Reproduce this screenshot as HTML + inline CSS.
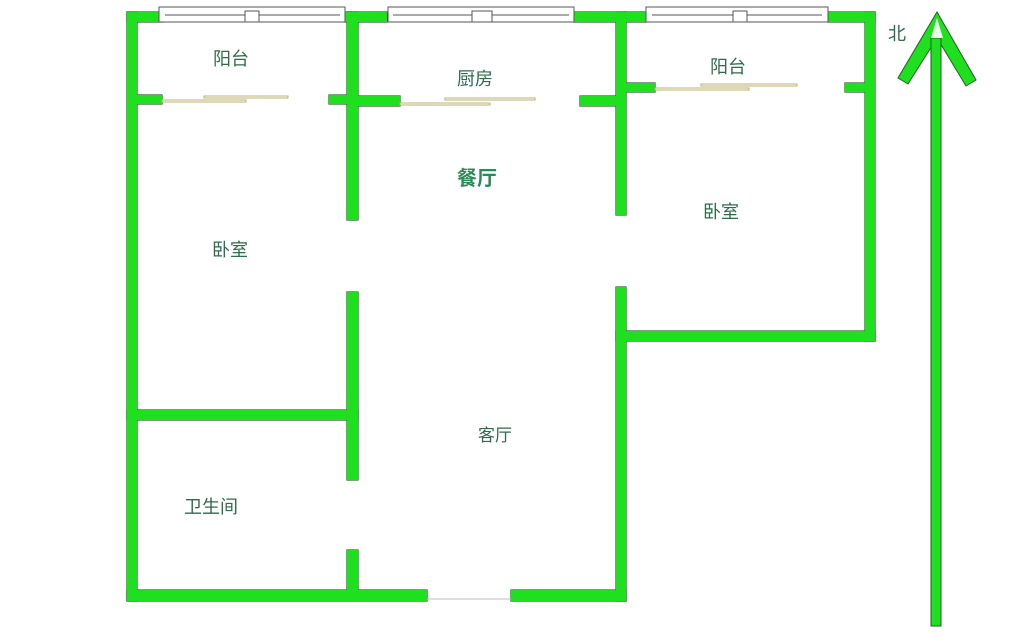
<!DOCTYPE html>
<html><head><meta charset="utf-8"><style>
html,body{margin:0;padding:0;background:#fff;}
svg{display:block}
text{font-family:"Liberation Sans","Noto Sans CJK SC",sans-serif;fill:#2d6b4a;font-size:18px;}
</style></head><body>
<svg width="1024" height="643" viewBox="0 0 1024 643" xmlns="http://www.w3.org/2000/svg">
<defs>
<g id="walls">
<rect x="127" y="12" width="10" height="589"/>
<rect x="127" y="12" width="36" height="10"/>
<rect x="344" y="12" width="43" height="10"/>
<rect x="573" y="12" width="74" height="10"/>
<rect x="827" y="12" width="48" height="10"/>
<rect x="865" y="12" width="10" height="329"/>
<rect x="616" y="331" width="259" height="10"/>
<rect x="616" y="287" width="10" height="314"/>
<rect x="616" y="12" width="10" height="203"/>
<rect x="127" y="590" width="300" height="11"/>
<rect x="511" y="590" width="115" height="11"/>
<rect x="347" y="12" width="11" height="208"/>
<rect x="347" y="292" width="11" height="188"/>
<rect x="347" y="550" width="11" height="50"/>
<rect x="127" y="410" width="231" height="10"/>
<rect x="137" y="95" width="25" height="9"/>
<rect x="329" y="95" width="18" height="9"/>
<rect x="358" y="96" width="42" height="10"/>
<rect x="580" y="96" width="36" height="10"/>
<rect x="626" y="83" width="29" height="9"/>
<rect x="845" y="83" width="20" height="9"/>
</g>
</defs>
<use href="#walls" fill="#2a5a2a" stroke="#2a5a2a" stroke-width="1.2"/>
<use href="#walls" fill="#1fe01f"/>
<g fill="#1fe01f" stroke="#2a5a2a" stroke-width="1">
<polygon points="937,12 976,80 966,86 937,38 908,84 898,78"/>
<rect x="931" y="38" width="10" height="588"/>
</g>
<polygon points="937,18 931,38 943,38" fill="#e8ffe8"/>
<g fill="#fff" stroke="#555" stroke-width="1">
<rect x="159" y="7" width="186" height="15"/>
<rect x="388" y="7" width="186" height="15"/>
<rect x="646" y="7" width="182" height="15"/>
<line x1="165" y1="15" x2="340" y2="15"/>
<line x1="393" y1="15" x2="569" y2="15"/>
<line x1="652" y1="15" x2="822" y2="15"/>
<rect x="245" y="11" width="14" height="11"/>
<rect x="472" y="11" width="20" height="11"/>
<rect x="733" y="11" width="14" height="11"/>
</g>
<g fill="#fff" stroke="#b8b070" stroke-width="1">
<rect x="204" y="96" width="84" height="2"/>
<rect x="162" y="100" width="84" height="2"/>
<rect x="445" y="98" width="90" height="2"/>
<rect x="400" y="103" width="90" height="2"/>
<rect x="701" y="84" width="96" height="2"/>
<rect x="655" y="88" width="94" height="2"/>
</g>
<line x1="427" y1="599" x2="511" y2="599" stroke="#bbb" stroke-width="1"/>
<text x="213" y="65">阳台</text>
<text x="457" y="85">厨房</text>
<text x="710" y="73">阳台</text>
<text x="457" y="185" style="font-weight:bold;font-size:20px;fill:#2a8a5a">餐厅</text>
<text x="212" y="256">卧室</text>
<text x="703" y="218">卧室</text>
<text x="478" y="441" style="font-size:17px">客厅</text>
<text x="184" y="513">卫生间</text>
<text x="888" y="40">北</text>
</svg>
</body></html>
